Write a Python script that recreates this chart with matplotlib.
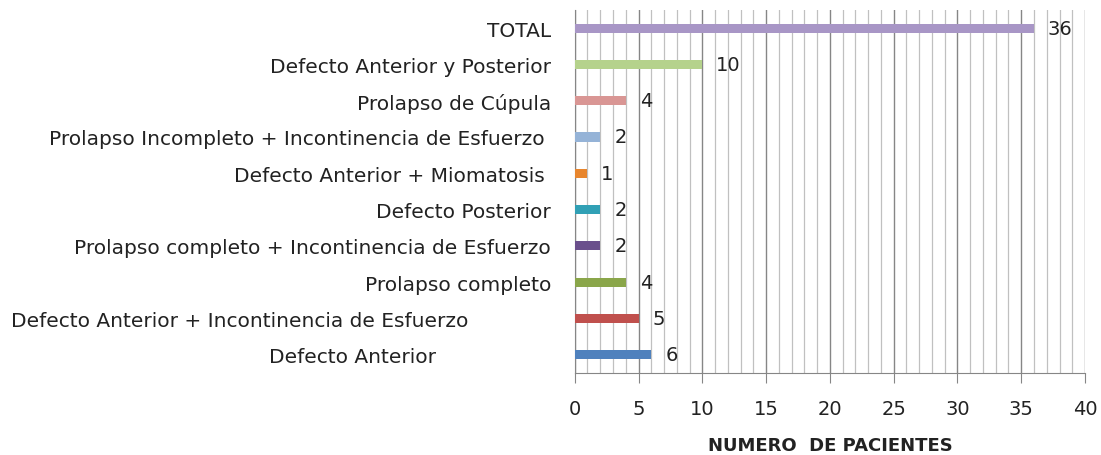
import matplotlib

matplotlib.use("Agg")
import matplotlib.pyplot as plt
from matplotlib.ticker import MultipleLocator

categories = [
    "Defecto Anterior" + " " * 18,
    "Defecto Anterior + Incontinencia de Esfuerzo" + " " * 13,
    "Prolapso completo",
    "Prolapso completo + Incontinencia de Esfuerzo",
    "Defecto Posterior",
    "Defecto Anterior + Miomatosis ",
    "Prolapso Incompleto + Incontinencia de Esfuerzo ",
    "Prolapso de Cúpula",
    "Defecto Anterior y Posterior",
    "TOTAL",
]
values = [6, 5, 4, 2, 2, 1, 2, 4, 10, 36]
colors = [
    "#4f81bd", "#c0504d", "#8aa64a", "#6a4f8c", "#31a0b5",
    "#e8862e", "#95b3d7", "#d99694", "#b5d28c", "#a896c6",
]

plt.rcParams["font.family"] = ["DejaVu Sans"]

fig = plt.figure(figsize=(11.01, 4.56), dpi=100)
ax = fig.add_axes([0.522, 0.18, 0.4635, 0.796])

ypos = range(len(categories))
bars = ax.barh(ypos, values, height=0.25, color=colors, zorder=3)
ax.bar_label(bars, labels=[str(v) for v in values], padding=10, fontsize=14,
             color="#222222")

ax.set_xlim(0, 40)
ax.set_ylim(-0.5, len(categories) - 0.5)
ax.set_yticks(list(ypos))
ax.set_yticklabels(categories, fontsize=14.5, color="#222222")
ax.tick_params(axis="y", length=0, pad=17)

ax.xaxis.set_major_locator(MultipleLocator(5))
ax.xaxis.set_minor_locator(MultipleLocator(1))
ax.tick_params(axis="x", which="major", length=7, color="#868686",
               labelsize=14, labelcolor="#222222", pad=12)
ax.tick_params(axis="x", which="minor", length=0)
ax.grid(axis="x", which="major", color="#868686", linewidth=1.0, zorder=0)
ax.grid(axis="x", which="minor", color="#c0c0c0", linewidth=0.9, zorder=0)
ax.set_axisbelow(True)

for side in ["top", "right"]:
    ax.spines[side].set_visible(False)
for side in ["left", "bottom"]:
    ax.spines[side].set_color("#868686")

ax.set_xlabel("NUMERO  DE PACIENTES", fontsize=13, fontweight="bold",
              color="#222222", labelpad=13)

fig.savefig("out.png", dpi=100)
